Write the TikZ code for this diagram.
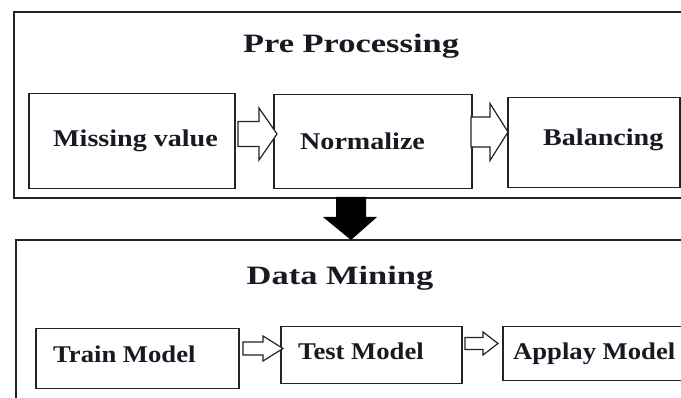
\documentclass[tikz,border=0pt]{standalone}
\usepackage{fontspec}
\setmainfont{Liberation Serif}
\newfontfamily\titlefont[FakeStretch=1.3]{Liberation Serif}
\newfontfamily\toplabfont[FakeStretch=1.17]{Liberation Serif}
\newfontfamily\botlabfont[FakeStretch=1.11]{Liberation Serif}
\definecolor{ink}{RGB}{25,25,35}
\definecolor{edge}{RGB}{35,35,35}
\newcommand\hollowarrow[6]{%
  \draw[harrow] (#1,#4-#5) -- (#2,#4-#5) -- (#2,#4-#6) -- (#3,#4) -- (#2,#4+#6) -- (#2,#4+#5) -- (#1,#4+#5) -- cycle;}
\begin{document}
\begin{tikzpicture}[x=1pt,y=-1pt,
  frame/.style={draw=edge,line width=1.6pt,inner sep=0pt,anchor=north west},
  stepbox/.style={draw=edge,line width=1.5pt,inner sep=0pt,anchor=north west},
  title/.style={anchor=base,text=ink,inner sep=0pt,font=\titlefont\fontsize{26.5}{30}\selectfont\bfseries},
  toplab/.style={anchor=base west,text=ink,inner sep=0pt,font=\toplabfont\fontsize{24}{28}\selectfont\bfseries},
  botlab/.style={anchor=base west,text=ink,inner sep=0pt,font=\botlabfont\fontsize{24}{28}\selectfont\bfseries},
  harrow/.style={draw=edge,line width=1.2pt,fill=white,line join=miter}]
\useasboundingbox (0,0) rectangle (681,398);
\clip (0,0) rectangle (681,398);
\fill[white] (0,0) rectangle (681,398);

% outer frames
\node[frame,minimum width=700pt,minimum height=186pt] (pre) at (13,11) {};
\node[frame,minimum width=700pt,minimum height=200pt] (dm) at (15,239) {};

% top row boxes
\node[stepbox,minimum width=206pt,minimum height=95pt] (mv) at (28,93) {};
\node[stepbox,minimum width=198pt,minimum height=94pt] (nz) at (273,94) {};
\node[stepbox,minimum width=172pt,minimum height=90pt] (bl) at (507,97) {};

% bottom row boxes
\node[stepbox,minimum width=203pt,minimum height=60pt] (tr) at (35,328) {};
\node[stepbox,minimum width=181pt,minimum height=57pt] (ts) at (280,326) {};
\node[stepbox,minimum width=220pt,minimum height=54pt] (ap) at (502,326) {};

% texts
\node[title] (pret) at (351,53) {Pre Processing};
\node[title] (dmt) at (340,285) {Data Mining};
\node[toplab] (mvt) at (53,147) {Missing value};
\node[toplab] (nzt) at (300,150) {Normalize};
\node[toplab] (blt) at (543,146) {Balancing};
\node[botlab] (trt) at (53,363) {Train Model};
\node[botlab] (tst) at (298,360) {Test Model};
\node[botlab] (apt) at (513,360) {Applay Model};

% hollow arrows
\hollowarrow{238}{259}{277}{134}{12.5}{26}
\hollowarrow{471}{490}{508}{132}{15}{28.5}
\hollowarrow{243}{263}{283}{348.5}{6.5}{12.5}
\hollowarrow{465}{483}{498}{343.5}{6}{11.5}

% black arrow between the stages
\fill[black] (336,197) -- (366,197) -- (366,217) -- (377,217) -- (351,240) -- (323,217) -- (336,217) -- cycle;
\end{tikzpicture}
\end{document}
